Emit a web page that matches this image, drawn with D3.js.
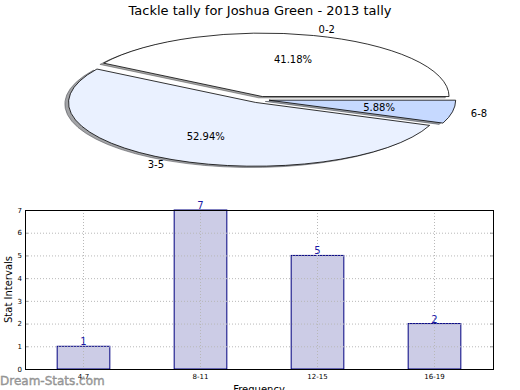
<!DOCTYPE html>
<html>
<head>
<meta charset="utf-8">
<script src="https://cdn.jsdelivr.net/npm/d3@7"></script>
<style>
body { margin: 0; background: #fff; }
text { font-family: "DejaVu Sans", sans-serif; }
</style>
</head>
<body>
<div id="chart"></div>
<script>
// pie data
var pieLabels = ["0-2", "3-5", "6-8"],
    pieValues = [7, 9, 1],
    pieColors = ["#ffffff", "#eaf1ff", "#c6d9ff"];

// bar data
var barCats = ["4-7", "8-11", "12-15", "16-19"],
    barValues = [1, 7, 5, 2],
    yTicks = [0, 1, 2, 3, 4, 5, 6, 7];

var w = 520, h = 390;

var svg = d3.select("#chart").append("svg")
    .attr("width", w)
    .attr("height", h);

svg.append("text")
    .attr("x", 260)
    .attr("y", 15)
    .attr("text-anchor", "middle")
    .style("font-size", "13px")
    .text("Tackle tally for Joshua Green - 2013 tally");

// ---- pie (ellipse, matplotlib style: ccw from east) ----
var cx = 259.8, cy = 99.6, rx = 186.7, ry = 63.5,
    explode = 0.05;

var total = d3.sum(pieValues);
var pie = d3.pie().sort(null)
    .startAngle(Math.PI / 2)
    .endAngle(Math.PI / 2 - 2 * Math.PI);
var arcs = pie(pieValues);
var arc = d3.arc().innerRadius(0).outerRadius(1);

function mid(d) { return (d.startAngle + d.endAngle) / 2; }

function shade(i) {
  var c = d3.rgb(pieColors[i]);
  return d3.rgb(c.r * 0.3, c.g * 0.3, c.b * 0.3);
}

var pg = svg.append("g")
    .attr("transform", "translate(" + cx + "," + cy + ")scale(" + rx + "," + ry + ")");

// shadows first
pg.selectAll("path.shadow")
    .data(arcs)
  .enter().append("path")
    .attr("class", "shadow")
    .attr("d", arc)
    .attr("transform", function(d) {
      var m = mid(d);
      return "translate(" + (explode * Math.sin(m) - 0.02) + "," + (-explode * Math.cos(m) + 0.02) + ")";
    })
    .attr("fill", function(d, i) { return shade(i); })
    .attr("fill-opacity", 0.5)
    .attr("stroke", function(d, i) { return shade(i); })
    .attr("stroke-opacity", 0.5)
    .attr("stroke-width", 1)
    .attr("vector-effect", "non-scaling-stroke");

pg.selectAll("path.slice")
    .data(arcs)
  .enter().append("path")
    .attr("class", "slice")
    .attr("d", arc)
    .attr("transform", function(d) {
      var m = mid(d);
      return "translate(" + explode * Math.sin(m) + "," + (-explode * Math.cos(m)) + ")";
    })
    .attr("fill", function(d, i) { return pieColors[i]; })
    .attr("stroke", "#000")
    .attr("stroke-width", 0.8)
    .attr("vector-effect", "non-scaling-stroke");

function pt(d, dist) {
  var m = mid(d);
  return [cx + (explode + dist) * Math.sin(m) * rx, cy - (explode + dist) * Math.cos(m) * ry];
}

svg.selectAll("text.plabel")
    .data(arcs)
  .enter().append("text")
    .attr("class", "plabel")
    .attr("x", function(d) { return pt(d, 1.1)[0]; })
    .attr("y", function(d) { return pt(d, 1.1)[1]; })
    .attr("dy", "0.35em")
    .attr("text-anchor", function(d) { return Math.sin(mid(d)) > 0 ? "start" : "end"; })
    .style("font-size", "10px")
    .text(function(d, i) { return pieLabels[i]; });

svg.selectAll("text.pct")
    .data(arcs)
  .enter().append("text")
    .attr("class", "pct")
    .attr("x", function(d) { return pt(d, 0.6)[0]; })
    .attr("y", function(d) { return pt(d, 0.6)[1]; })
    .attr("dy", "0.35em")
    .attr("text-anchor", "middle")
    .style("font-size", "10px")
    .text(function(d) { return (d.value / total * 100).toFixed(2) + "%"; });

// ---- bar chart ----
var bx0 = 25, bx1 = 493, by0 = 210, by1 = 369;

var x = d3.scaleBand()
    .domain(barCats)
    .range([bx0, bx1])
    .paddingInner(0.55)
    .paddingOuter(0.275);

var y = d3.scaleLinear()
    .domain([0, 7])
    .range([by1, by0]);

svg.selectAll("rect.bar")
    .data(barValues)
  .enter().append("rect")
    .attr("class", "bar")
    .attr("x", function(d, i) { return x(barCats[i]); })
    .attr("y", function(d) { return y(d); })
    .attr("width", x.bandwidth())
    .attr("height", function(d) { return y(0) - y(d); })
    .attr("fill", "#cccce6")
    .attr("stroke", "#000080")
    .attr("stroke-width", 1);

// grid on top of bars
svg.selectAll("line.hgrid")
    .data(yTicks.slice(1, -1))
  .enter().append("line")
    .attr("class", "hgrid")
    .attr("x1", bx0).attr("x2", bx1)
    .attr("y1", function(d) { return y(d) + 0.5; })
    .attr("y2", function(d) { return y(d) + 0.5; })
    .attr("stroke", "#b8b8b8")
    .attr("stroke-dasharray", "1,2");

svg.selectAll("line.vgrid")
    .data(barCats)
  .enter().append("line")
    .attr("class", "vgrid")
    .attr("x1", function(d) { return Math.round(x(d) + x.bandwidth() / 2) + 0.5; })
    .attr("x2", function(d) { return Math.round(x(d) + x.bandwidth() / 2) + 0.5; })
    .attr("y1", by0).attr("y2", by1)
    .attr("stroke", "#b8b8b8")
    .attr("stroke-dasharray", "1,2");

var yAxis = svg.append("g")
    .attr("transform", "translate(" + bx0 + ",0)")
    .call(d3.axisLeft(y).tickValues(yTicks).tickFormat(d3.format("d")).tickSize(0).tickPadding(3));
yAxis.select(".domain").remove();
yAxis.selectAll("text").style("font-size", "7px").style("font-family", "DejaVu Sans");

var xAxis = svg.append("g")
    .attr("transform", "translate(0," + by1 + ")")
    .call(d3.axisBottom(x).tickSize(0).tickPadding(5));
xAxis.select(".domain").remove();
xAxis.selectAll("text").style("font-size", "7px").style("font-family", "DejaVu Sans");

// inward tick marks
svg.selectAll("line.ytickl")
    .data(yTicks)
  .enter().append("line")
    .attr("x1", bx0).attr("x2", bx0 + 3)
    .attr("y1", function(d) { return y(d) + 0.5; })
    .attr("y2", function(d) { return y(d) + 0.5; })
    .attr("stroke", "#999");
svg.selectAll("line.ytickr")
    .data(yTicks)
  .enter().append("line")
    .attr("x1", bx1 - 3).attr("x2", bx1)
    .attr("y1", function(d) { return y(d) + 0.5; })
    .attr("y2", function(d) { return y(d) + 0.5; })
    .attr("stroke", "#999");

svg.append("rect")
    .attr("x", bx0 + 0.5)
    .attr("y", by0 + 0.5)
    .attr("width", bx1 - bx0)
    .attr("height", by1 - by0)
    .attr("fill", "none")
    .attr("stroke", "#000")
    .attr("stroke-width", 1);

svg.selectAll("text.val")
    .data(barValues)
  .enter().append("text")
    .attr("class", "val")
    .attr("x", function(d, i) { return x(barCats[i]) + x.bandwidth() / 2; })
    .attr("y", function(d) { return y(d) - 1; })
    .attr("text-anchor", "middle")
    .attr("fill", "#1a1aa6")
    .style("font-size", "10px")
    .text(function(d) { return d; });

svg.append("text")
    .attr("transform", "translate(12," + (by0 + by1) / 2 + ")rotate(-90)")
    .attr("text-anchor", "middle")
    .style("font-size", "10px")
    .text("Stat Intervals");

svg.append("text")
    .attr("x", (bx0 + bx1) / 2)
    .attr("y", 393)
    .attr("text-anchor", "middle")
    .style("font-size", "10px")
    .text("Frequency");

svg.append("text")
    .attr("x", 0)
    .attr("y", 385)
    .attr("fill", "#8c8c8c")
    .attr("fill-opacity", 0.85)
    .attr("stroke", "#8c8c8c")
    .attr("stroke-width", 0.4)
    .style("font-size", "12px")
    .text("Dream-Stats.com");
</script>
</body>
</html>
